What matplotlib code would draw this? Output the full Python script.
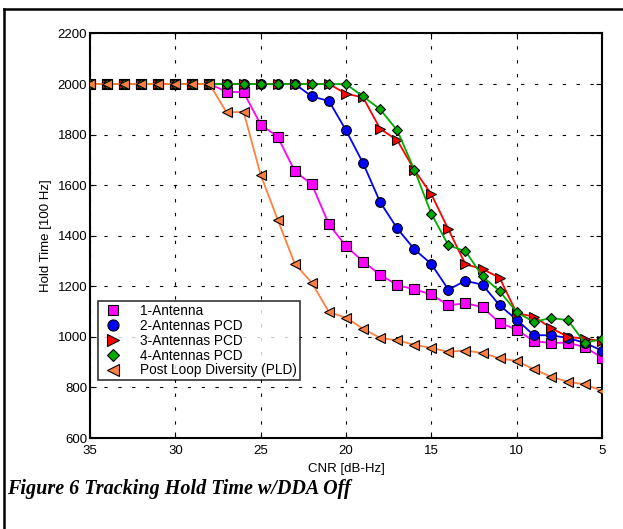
import matplotlib
matplotlib.use("Agg")
import matplotlib.pyplot as plt
from matplotlib.lines import Line2D

cnr = list(range(35, 4, -1))

one_antenna = [2000]*8 + [1970, 1967, 1840, 1791, 1655, 1603, 1445, 1359, 1298, 1246, 1205,
                          1188, 1168, 1125, 1133, 1118, 1055, 1029, 983, 976, 977, 959, 918]
two_antennas = [2000]*13 + [1951, 1933, 1817, 1687, 1533, 1429, 1347, 1288, 1187, 1222, 1206,
                            1125, 1068, 1007, 1006, 996, 976, 946]
three_antennas = [2000]*15 + [1962, 1947, 1823, 1778, 1661, 1564, 1425, 1287, 1268, 1234,
                              1094, 1080, 1036, 1000, 993, 983]
four_antennas = [2000]*16 + [1951, 1900, 1817, 1662, 1487, 1362, 1339, 1239, 1181, 1098,
                             1059, 1075, 1066, 976, 992]
pld = [2000]*8 + [1888, 1890, 1641, 1463, 1289, 1214, 1098, 1076, 1032, 996, 986, 969, 956,
                  941, 946, 936, 915, 905, 872, 843, 822, 812, 786]

labels = ["1-Antenna", "2-Antennas PCD", "3-Antennas PCD", "4-Antennas PCD",
          "Post Loop Diversity (PLD)"]
colors = ["#FF00FF", "#0000FF", "#FF0000", "#00AA00", "#FF8040"]
markers = ["s", "o", ">", "D", "<"]
msizes = [6.5, 7, 7.5, 5.5, 7.5]
series = [one_antenna, two_antennas, three_antennas, four_antennas, pld]

xticks = [35, 30, 25, 20, 15, 10, 5]
yticks = [600, 800, 1000, 1200, 1400, 1600, 1800, 2000, 2200]

plt.rcParams['font.family'] = ['Liberation Sans', 'DejaVu Sans']

fig = plt.figure(figsize=(6.23, 5.29), dpi=100)
ax = fig.add_axes([0.1445, 0.172, 0.8218, 0.7647])

order = [4, 0, 1, 2, 3]
for i in order:
    ax.plot(cnr, series[i], color=colors[i], lw=1.3, marker=markers[i], ms=msizes[i],
            mfc=colors[i], mec='black', mew=0.8, zorder=3 + i * 0.1)

ax.set_xlim(35, 5)
ax.set_ylim(600, 2200)
ax.set_xticks(xticks)
ax.set_yticks(yticks)
ax.tick_params(direction='in', top=True, right=True, labelsize=9.5, length=4, width=0.8)
ax.tick_params(axis='y', pad=2)
ax.tick_params(axis='x', pad=5)
ax.grid(True, color='black', linestyle=(0, (3, 9.5)), linewidth=0.8)
for s in ax.spines.values():
    s.set_linewidth(1.5)

ax.set_xlabel("CNR [dB-Hz]", fontsize=9.5, labelpad=4)
ax.set_ylabel("Hold Time [100 Hz]", fontsize=9.5, labelpad=4)

handles = [Line2D([], [], linestyle='none', marker=markers[i], ms=msizes[i] + 1,
                  mfc=colors[i], mec='black', mew=0.8) for i in range(5)]
leg = ax.legend(handles, labels, loc='lower left', bbox_to_anchor=(0.0156, 0.143),
                fontsize=9.8, frameon=True, fancybox=False, edgecolor='black',
                borderpad=0.2, labelspacing=0.06, handletextpad=1.1, borderaxespad=0,
                handlelength=1.8)
leg.get_frame().set_linewidth(1.2)

fig.text(0.012, 0.076, "Figure 6 Tracking Hold Time w/DDA Off", fontsize=14.5,
         family=['Liberation Serif'], weight='bold', style='italic', va='center', ha='left')

fig.add_artist(Line2D([0.0065, 0.0065], [0, 0.983], transform=fig.transFigure,
                      color='black', lw=1.8))
fig.add_artist(Line2D([0.0065, 1.0], [0.983, 0.983], transform=fig.transFigure,
                      color='black', lw=1.8))

fig.savefig("out.png", dpi=100)
